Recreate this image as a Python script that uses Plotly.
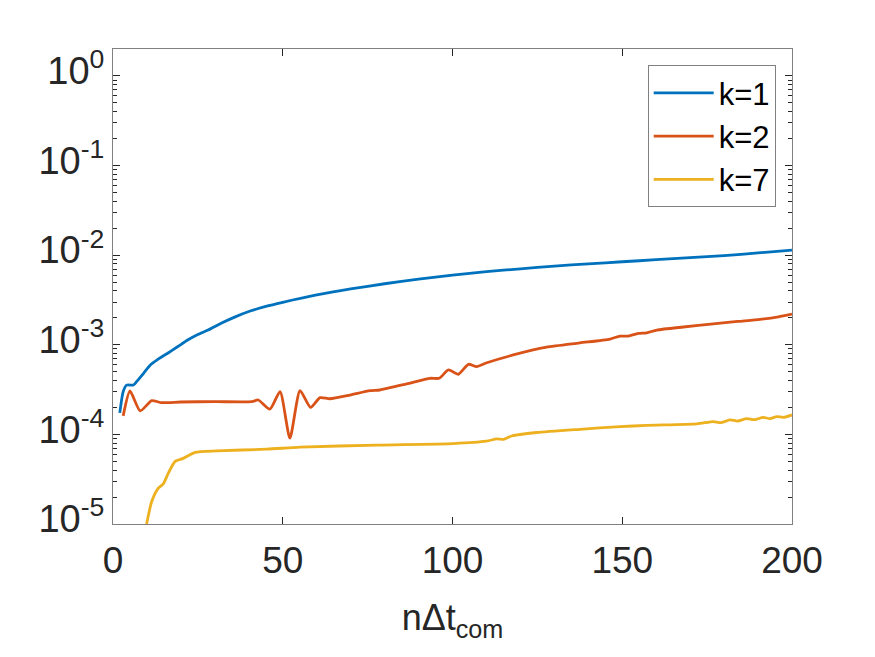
import plotly.graph_objects as go

# k=1
x1 = [2, 3, 4, 6, 7, 9, 11, 13, 16, 19, 22, 25, 28, 32, 36, 40, 45, 50, 60, 70, 80, 90, 100,
      110, 120, 130, 140, 150, 160, 170, 180, 190, 200]
y1 = [1.74e-4, 3.0e-4, 3.55e-4, 3.55e-4, 3.9e-4, 4.8e-4, 5.95e-4, 6.8e-4, 8.0e-4, 9.5e-4, 1.13e-3,
      1.3e-3, 1.46e-3, 1.75e-3, 2.05e-3, 2.35e-3, 2.68e-3, 2.98e-3, 3.6e-3, 4.2e-3, 4.8e-3, 5.4e-3,
      6.0e-3, 6.55e-3, 7.05e-3, 7.55e-3, 8.0e-3, 8.45e-3, 8.9e-3, 9.4e-3, 9.9e-3, 1.06e-2, 1.14e-2]

# k=2
x2 = [3, 5, 8, 11.4, 14.3, 20, 30, 40.9, 42.8, 46.2, 49.2, 52.1, 55.1, 58.2, 61, 63.9, 69.8, 75.7,
      78.6, 86.5, 93.4, 96.1, 98.8, 101.7, 104.7, 107.1, 110.1, 117.9, 127.7, 137.5, 146.4, 149.3,
      151.8, 154.7, 157.2, 160.2, 168, 176.8, 184, 190.6, 196, 200]
y2 = [1.61e-4, 3.05e-4, 1.83e-4, 2.38e-4, 2.26e-4, 2.3e-4, 2.32e-4, 2.32e-4, 2.42e-4, 1.91e-4,
      3.0e-4, 9.1e-5, 3.08e-4, 2.0e-4, 2.57e-4, 2.5e-4, 2.75e-4, 3.08e-4,
      3.13e-4, 3.66e-4, 4.23e-4, 4.23e-4, 5.24e-4, 4.69e-4, 6.06e-4, 5.7e-4, 6.3e-4, 7.7e-4,
      9.4e-4, 1.05e-3, 1.16e-3, 1.25e-3, 1.25e-3, 1.34e-3, 1.36e-3, 1.46e-3, 1.58e-3, 1.71e-3,
      1.82e-3, 1.92e-3, 2.05e-3, 2.2e-3]

# k=7
x7 = [9.9, 11.4, 13.3, 14.8, 16.3, 18.3, 20.7, 24.2, 30.5, 45.3, 55.1, 77.7, 100.2, 110, 113,
      115, 117.4, 124.8, 137.5, 149.3, 157.2, 172, 176.8, 179, 181.7, 184, 186.6, 189, 191.5,
      193.5, 195.5, 197.5, 200]
y7 = [1.0e-5, 1.78e-5, 2.5e-5, 2.8e-5, 3.7e-5, 5.0e-5, 5.4e-5, 6.3e-5, 6.55e-5, 6.84e-5, 7.2e-5,
      7.6e-5, 7.9e-5, 8.4e-5, 8.9e-5, 8.8e-5, 9.6e-5, 1.05e-4, 1.14e-4, 1.22e-4, 1.26e-4, 1.31e-4,
      1.39e-4, 1.35e-4, 1.45e-4, 1.41e-4, 1.5e-4, 1.46e-4, 1.55e-4, 1.5e-4, 1.58e-4, 1.55e-4, 1.65e-4]

x_ticks = [0, 50, 100, 150, 200]
y_exps = [-5, -4, -3, -2, -1, 0]

names = ["k=1", "k=2", "k=7"]
colors = ["#0072BD", "#D95319", "#EDB120"]

fig = go.Figure()
for xs, ys, nm, c in zip([x1, x2, x7], [y1, y2, y7], names, colors):
    fig.add_trace(go.Scatter(x=xs, y=ys, mode="lines", name=nm,
                             line=dict(color=c, width=2.8, shape="spline", smoothing=0.6)))

font = "Liberation Sans, Arial, Helvetica, sans-serif"
tick_col = "#262626"
axis_col = "#808080"

minor_vals = [k * 10.0 ** e for e in range(-5, 1) for k in range(2, 10)]

fig.update_layout(
    width=875, height=657,
    margin=dict(l=113, r=83, t=49, b=133),
    paper_bgcolor="white", plot_bgcolor="white",
    font=dict(family=font, color=tick_col, size=36),
    showlegend=True,
    legend=dict(x=0.976, y=0.966, xanchor="right", yanchor="top",
                bgcolor="white", bordercolor=axis_col, borderwidth=1,
                font=dict(size=31, color="black"), tracegroupgap=0,
                itemwidth=60),
    xaxis=dict(range=[0, 200], tickmode="array", tickvals=x_ticks,
               ticktext=[str(v) for v in x_ticks],
               ticks="inside", ticklen=7, tickwidth=1, tickcolor=tick_col,
               showline=True, linecolor=axis_col, linewidth=1, mirror="allticks",
               showgrid=False, zeroline=False, ticklabelstandoff=4,
               tickfont=dict(size=37, color=tick_col),
               title=dict(text="nΔt<sub>com</sub>", font=dict(size=36, color=tick_col), standoff=24)),
    yaxis=dict(type="log", range=[-5, 0.301], tickmode="array",
               tickvals=[10.0 ** e for e in y_exps],
               ticktext=["10<sup>%d</sup>" % e for e in y_exps],
               ticks="inside", ticklen=7, tickwidth=1, tickcolor=tick_col,
               minor=dict(tickmode="array", tickvals=minor_vals, ticks="inside",
                          ticklen=4, tickcolor=tick_col, showgrid=False),
               showline=True, linecolor=axis_col, linewidth=1, mirror="allticks",
               showgrid=False, zeroline=False, ticklabelshift=-5,
               tickfont=dict(size=38, color=tick_col)),
)

fig.write_html("out.html")
